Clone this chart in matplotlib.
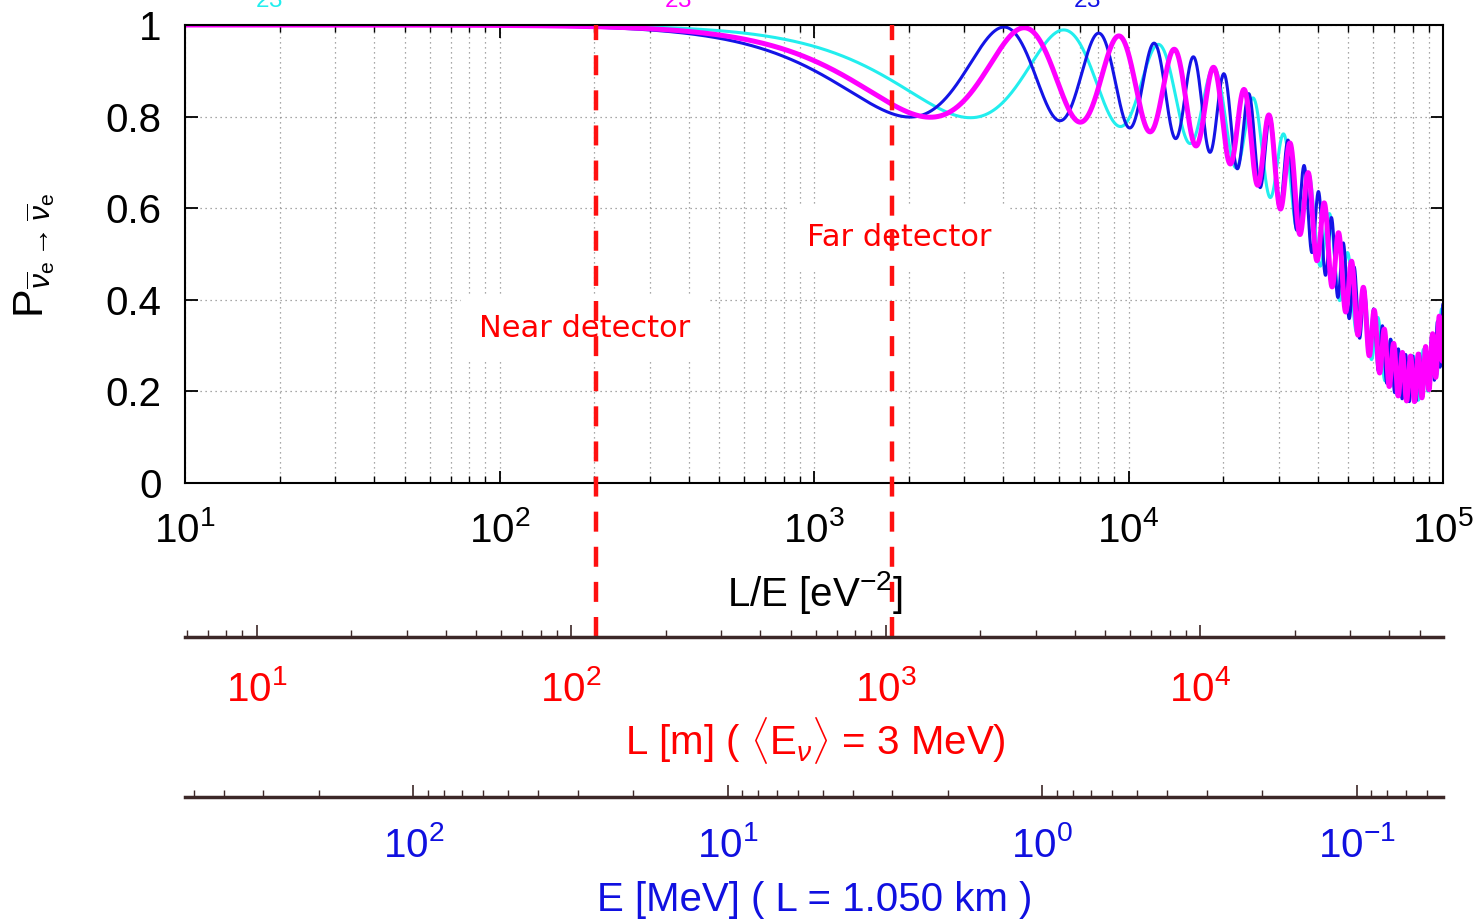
import numpy as np
import matplotlib.pyplot as plt
from matplotlib.ticker import LogLocator, FuncFormatter, NullFormatter

plt.rcParams['font.family'] = ['Liberation Sans', 'DejaVu Sans']
plt.rcParams['mathtext.fontset'] = 'custom'
plt.rcParams['mathtext.rm'] = 'Liberation Sans'
plt.rcParams['mathtext.it'] = 'Liberation Sans:italic'
plt.rcParams['mathtext.bf'] = 'Liberation Sans:bold'

# oscillation parameters (cyan, magenta, blue)
dm2_23 = [1.95e-3, 2.63e-3, 3.06e-3]      # eV^2
curve_colors = ['#22eeee', '#ff00ff', '#1414e6']
dm2_21 = 7.9e-5                           # eV^2
sin2_2th13 = 0.2
sin2_2th12 = 0.75

# experiment
E_mean = 3.0        # MeV
L_far = 1050.0      # m
L_near = 120.0      # m
hbarc = 1.97327e-7  # eV m

le_min, le_max = 1e1, 1e5     # L/E range, eV^-2
y_ticks = [0, 0.2, 0.4, 0.6, 0.8, 1]
y_ticklabels = ['0', '0.2', '0.4', '0.6', '0.8', '1']

th13 = 0.5 * np.arcsin(np.sqrt(sin2_2th13))
th12 = 0.5 * np.arcsin(np.sqrt(sin2_2th12))


def survival(le, dm2):
    # anti-nu_e survival probability, le in eV^-2
    d21 = dm2_21 * le / 4
    d32 = dm2 * le / 4
    d31 = d32 + d21
    return (1 - np.cos(th13)**4 * sin2_2th12 * np.sin(d21)**2
            - sin2_2th13 * (np.cos(th12)**2 * np.sin(d31)**2
                            + np.sin(th12)**2 * np.sin(d32)**2))


W, H = 1479, 923
AX_L, AX_R, AX_T, AX_B = 185, 1443, 25, 483
Y_LAXIS, Y_EAXIS = 637, 797


def box(x0, y0, x1, y1):
    return [x0 / W, 1 - y1 / H, (x1 - x0) / W, max(y1 - y0, 0.01) / H]


fig = plt.figure(figsize=(W / 100, H / 100), dpi=100)
ax = fig.add_axes(box(AX_L, AX_T, AX_R, AX_B))

le = np.logspace(np.log10(le_min), np.log10(le_max), 40000)
# draw order: cyan, blue, magenta on top
for i in (0, 2, 1):
    lw = 3.6 if i == 1 else 2.2
    ax.plot(le, survival(le, dm2_23[i]), color=curve_colors[i], lw=lw, zorder=2)

ax.set_xscale('log')
ax.set_xlim(le_min, le_max)
ax.set_ylim(0, 1)
ax.xaxis.set_major_locator(LogLocator(base=10, numticks=10))
ax.xaxis.set_minor_locator(LogLocator(base=10, subs=np.arange(2, 10), numticks=50))
decade = FuncFormatter(lambda v, p: r'$\mathregular{10^{%d}}$' % round(np.log10(v)))
ax.xaxis.set_major_formatter(decade)
ax.xaxis.set_minor_formatter(NullFormatter())
ax.set_yticks(y_ticks)
ax.set_yticklabels(y_ticklabels)
ax.tick_params(which='both', direction='in', top=True, right=True)
ax.tick_params(which='major', length=9, width=1.3)
ax.tick_params(which='minor', length=5, width=1)
ax.tick_params(axis='x', labelsize=29, pad=20)
ax.tick_params(axis='y', labelsize=29, pad=17)
ax.grid(which='both', axis='x', ls=(0, (1, 3)), color='0.55', lw=0.9, zorder=0)
ax.grid(which='major', axis='y', ls=(0, (1, 3)), color='0.55', lw=0.9, zorder=0)
for s in ax.spines.values():
    s.set_linewidth(1.5)

fig.text(35 / W, 1 - 255 / H,
         r'$\mathrm{P}_{\overline{\nu}_\mathrm{e}\rightarrow\overline{\nu}_\mathrm{e}}$',
         rotation=90, ha='center', va='center', fontsize=31)
fig.text(815 / W, 1 - 592 / H, r'L/E [eV$^{-2}$]', ha='center', va='center', fontsize=29)

# parameter labels, cut by the top edge as in the original
label_x = [203, 612, 1021]
for x, v, c in zip(label_x, dm2_23, curve_colors):
    fig.text(x / W, 1 - 10.5 / H, r'$\Delta m^2_{23}$ = %.1f$\times$10$^{-3}$ eV$^2$' % (v * 1e3),
             color=c, fontsize=25, ha='left', va='bottom')

# L axis (fixed mean energy) and E axis (fixed far baseline)
axL = fig.add_axes(box(AX_L, Y_LAXIS, AX_R, Y_LAXIS))
axE = fig.add_axes(box(AX_L, Y_EAXIS, AX_R, Y_EAXIS))
m_per_le = hbarc * E_mean * 1e6
axL.set_xscale('log')
axL.set_xlim(le_min * m_per_le, le_max * m_per_le)
mev_le = L_far / hbarc / 1e6
axE.set_xscale('log')
axE.set_xlim(mev_le / le_min, mev_le / le_max)

for a, col, pad in ((axL, 'red', 24), (axE, '#1010e0', 21)):
    a.patch.set_visible(False)
    a.set_yticks([])
    for s in ('top', 'left', 'right'):
        a.spines[s].set_visible(False)
    a.spines['bottom'].set_color('#3c2828')
    a.spines['bottom'].set_linewidth(2.5)
    a.xaxis.set_major_locator(LogLocator(base=10, numticks=10))
    a.xaxis.set_minor_locator(LogLocator(base=10, subs=np.arange(2, 10), numticks=50))
    a.xaxis.set_major_formatter(decade)
    a.xaxis.set_minor_formatter(NullFormatter())
    a.tick_params(which='both', direction='in', bottom=True, top=False,
                  color='#3c2828', labelcolor=col, labelsize=29, pad=pad)
    a.tick_params(which='major', length=9, width=1.2)
    a.tick_params(which='minor', length=5, width=1)

fig.text(815 / W, 1 - 740 / H, r'L [m] ( $\langle$E$_\nu\rangle$ = 3 MeV)',
         color='red', ha='center', va='center', fontsize=29)
fig.text(815 / W, 1 - 900 / H, 'E [MeV] ( L = 1.050 km )',
         color='#1010e0', ha='center', va='center', fontsize=29)

# detector positions
y_bot = (AX_B - Y_LAXIS) / (AX_B - AX_T)
det_le = [L_near / m_per_le, L_far / m_per_le]
ax.vlines(det_le, y_bot, 1, colors='#ff1010', lw=3.2, linestyles=[(0, (4.5, 3.4))],
          clip_on=False, zorder=5)

ax.text(0.318, 0.338, 'Near detector', transform=ax.transAxes, ha='center', va='center',
        color='red', fontsize=22, family='DejaVu Sans', zorder=4,
        bbox=dict(boxstyle='square,pad=0.6', fc='white', ec='none'))
ax.text(0.5676, 0.535, 'Far detector', transform=ax.transAxes, ha='center', va='center',
        color='red', fontsize=22, family='DejaVu Sans', zorder=4,
        bbox=dict(boxstyle='square,pad=0.6', fc='white', ec='none'))

fig.savefig('out.png', dpi=100)
